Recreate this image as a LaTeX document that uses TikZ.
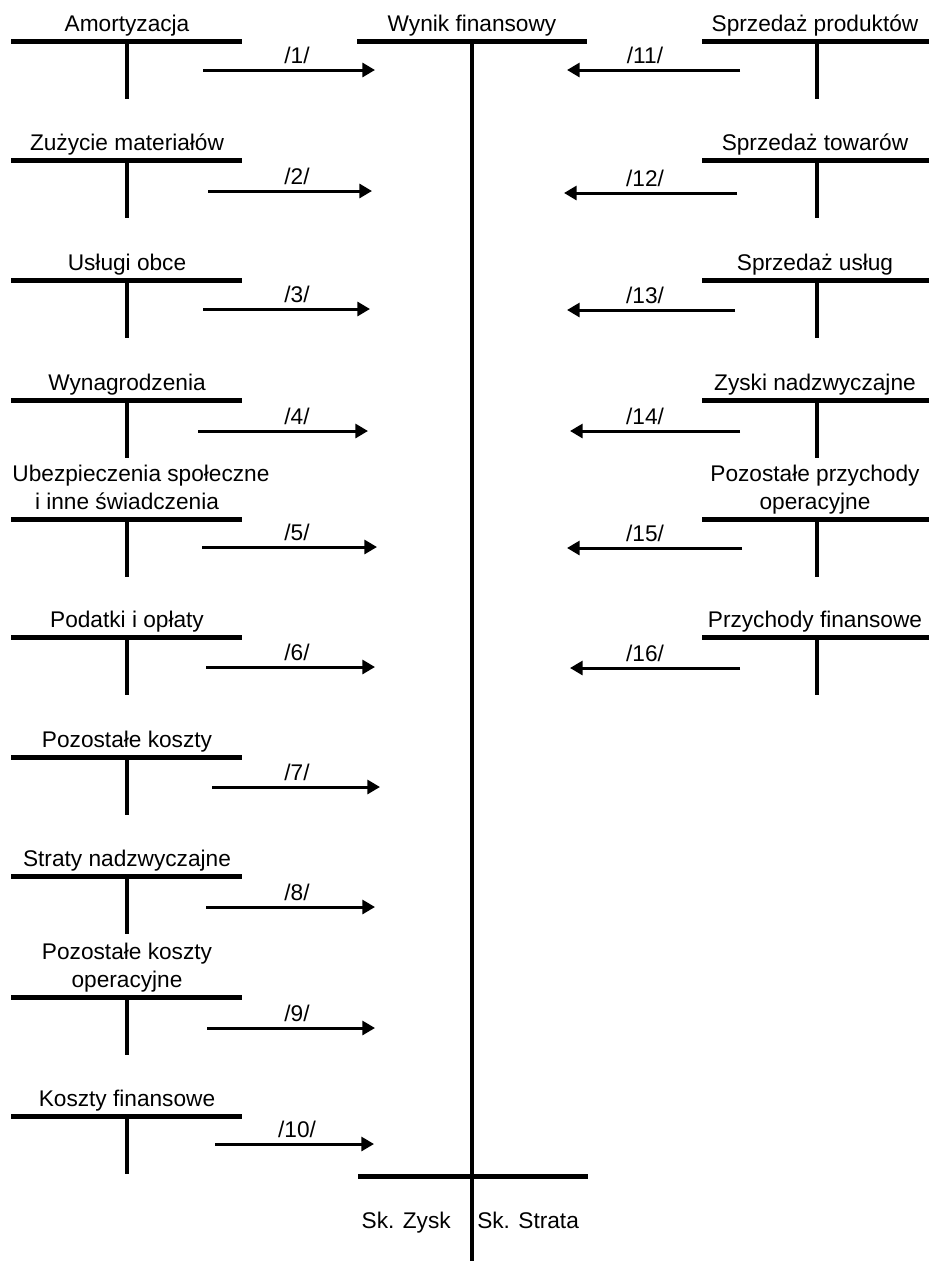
\documentclass[tikz,border=0pt]{standalone}
\usepackage{fontspec}
\setmainfont{Liberation Sans}
\usetikzlibrary{arrows.meta}
\begin{document}
\begin{tikzpicture}[x=0.75pt,y=-0.75pt,
  acctitle/.style={anchor=south,inner sep=0pt,text depth=0pt,align=center,
    font=\fontsize{17}{21}\selectfont},
  flowlabel/.style={anchor=base,inner sep=0pt,font=\fontsize{17}{21}\selectfont},
  sidelabel/.style={inner sep=0pt,font=\fontsize{17}{21}\selectfont},
  tbar/.style={line width=3.75pt},
  tstem/.style={line width=3pt},
  flow/.style={line width=2.25pt,-{Triangle[length=9.5pt,width=10.5pt]}}]
\useasboundingbox (0,0) rectangle (929,1261);

% central account: profit and loss
\node[acctitle] (wf) at (472,32) {Wynik finansowy};
\coordinate (wfL) at (357,41);
\coordinate (wfR) at (587,41);
\coordinate (wfT) at (472,41);
\coordinate (wfB) at (472,1261);
\draw[tbar] (wfL) -- (wfR);
\draw[tstem] (wfT) -- (wfB);
\coordinate (cbL) at (358,1176);
\coordinate (cbR) at (588,1176);
\draw[tbar] (cbL) -- (cbR);
\node[sidelabel,anchor=base east] (zysk) at (451,1228) {Sk. Zysk};
\node[sidelabel,anchor=base west] (strata) at (477,1228) {Sk. Strata};

% cost accounts on the left
\foreach \i/\by/\ay/\ax/\bx/\txt in {
  1/41/70/203/375/{Amortyzacja},
  2/160/191/208/372/{Zużycie materiałów},
  3/280/309/203/370/{Usługi obce},
  4/400/431/198/368/{Wynagrodzenia},
  5/519/547/202/377/{\hspace*{21pt}Ubezpieczenia społeczne\\i inne świadczenia},
  6/637/667/206/375/{Podatki i opłaty},
  7/757/787/212/380/{Pozostałe koszty},
  8/876/907/206/375/{Straty nadzwyczajne},
  9/997/1028/207/375/{Pozostałe koszty\\operacyjne},
  10/1116/1144/215/374/{Koszty finansowe}}{
  \node[acctitle] (k\i) at (127,\by-9) {\txt};
  \coordinate (k\i L) at (11,\by);
  \coordinate (k\i R) at (242,\by);
  \coordinate (k\i T) at (127,\by);
  \coordinate (k\i B) at (127,\by+58);
  \coordinate (k\i s) at (\ax,\ay);
  \coordinate (k\i e) at (\bx,\ay);
  \draw[tbar] (k\i L) -- (k\i R);
  \draw[tstem] (k\i T) -- (k\i B);
  \draw[flow] (k\i s) -- (k\i e);
  \node[flowlabel] (kl\i) at (297,\ay-7) {/\i/};
}

% revenue accounts on the right
\foreach \i/\by/\ay/\ax/\bx/\txt in {
  11/41/70/740/567/{Sprzedaż produktów},
  12/160/193/737/564/{Sprzedaż towarów},
  13/280/310/735/567/{Sprzedaż usług},
  14/400/431/740/570/{Zyski nadzwyczajne},
  15/519/548/742/567/{Pozostałe przychody\\operacyjne},
  16/637/668/740/570/{Przychody finansowe}}{
  \node[acctitle] (p\i) at (815,\by-9) {\txt};
  \coordinate (p\i L) at (702,\by);
  \coordinate (p\i R) at (929,\by);
  \coordinate (p\i T) at (817,\by);
  \coordinate (p\i B) at (817,\by+58);
  \coordinate (p\i s) at (\ax,\ay);
  \coordinate (p\i e) at (\bx,\ay);
  \draw[tbar] (p\i L) -- (p\i R);
  \draw[tstem] (p\i T) -- (p\i B);
  \draw[flow] (p\i s) -- (p\i e);
  \node[flowlabel] (pl\i) at (645,\ay-7) {/\i/};
}
\end{tikzpicture}
\end{document}
